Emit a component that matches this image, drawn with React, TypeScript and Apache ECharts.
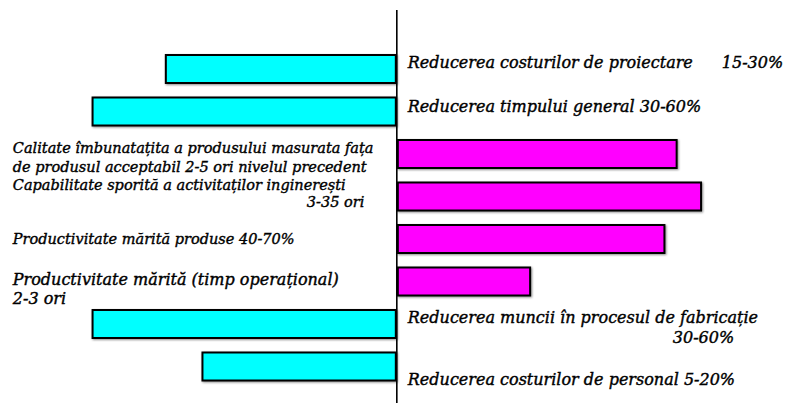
import React, { useEffect, useRef } from "react";
import * as echarts from "echarts";

const categories = [
  "Reducerea costurilor de proiectare",
  "Reducerea timpului general",
  "Calitate îmbunatațita a produsului",
  "Capabilitate sporită a activitaților inginerești",
  "Productivitate mărită produse",
  "Productivitate mărită (timp operațional)",
  "Reducerea muncii în procesul de fabricație",
  "Reducerea costurilor de personal",
];
// bars drawn to the left of the axis (reductions)
const reductionValues: (number | null)[] = [76, 100, null, null, null, null, 100, 64];
// bars drawn to the right of the axis (improvements)
const improvementValues: (number | null)[] = [null, null, 92, 100, 88, 44, null, null];

const labelTexts = [
  "{a|Reducerea costurilor de proiectare}15-30%",
  "Reducerea timpului general 30-60%",
  "Calitate îmbunatațita a produsului masurata fața\nde produsul acceptabil 2-5 ori nivelul precedent",
  "Capabilitate sporită a activitaților inginerești\n{r4|3-35 ori}",
  "Productivitate mărită produse 40-70%",
  "Productivitate mărită (timp operațional)\n2-3 ori",
  "Reducerea muncii în procesul de fabricație\n{r7|30-60%}",
  "Reducerea costurilor de personal 5-20%",
];

const labelDy = [-7, -5, 3, -3, 0, 7, 3.5, 12.5];
const lineHeights = [19, 19, 19, 17, 19, 19, 20, 19];
const labelSizes = [16, 16, 14.5, 14.5, 14.5, 16, 16, 16];

const FONT = "'DejaVu Serif', 'Liberation Serif', serif";
const baseText = {
  fontFamily: FONT,
  fontStyle: "italic" as const,
  fontSize: 16,
  color: "#000",
  textBorderColor: "#000",
  textBorderWidth: 0.4,
};

export default function App() {
  const ref = useRef<HTMLDivElement>(null);
  useEffect(() => {
    if (!ref.current) return;
    const chart = echarts.init(ref.current, null, { renderer: "svg" });
    const rich = {
      a: { ...baseText, width: 314 },
      r4: { ...baseText, fontSize: 14.5, padding: [0, 0, 0, 294] },
      r7: { ...baseText, padding: [0, 0, 0, 265] },
    };
    const barStyle = (color: string) => ({
      color,
      borderColor: "#000",
      borderWidth: 2,
      shadowColor: "rgba(0,0,0,0.45)",
      shadowBlur: 2,
      shadowOffsetX: 1,
      shadowOffsetY: 1,
    });
    const itemLabel = (i: number) => ({
      offset: [0, labelDy[i]],
      lineHeight: lineHeights[i],
      fontSize: labelSizes[i],
    });
    chart.setOption({
      animation: false,
      backgroundColor: "#fff",
      grid: { left: 0, top: 47.75, width: 786, height: 340 },
      xAxis: { type: "value", min: -130, max: 127.5, show: false },
      yAxis: { type: "category", data: categories, inverse: true, show: false },
      series: [
        {
          name: "Reduceri",
          type: "bar",
          barWidth: 30,
          barGap: "-100%",
          itemStyle: barStyle("#00FFFF"),
          label: {
            show: true,
            position: "right",
            distance: 11,
            align: "left",
            verticalAlign: "middle",
            ...baseText,
            rich,
            formatter: (p: any) => labelTexts[p.dataIndex],
          },
          data: reductionValues.map((v, i) =>
            v == null ? "-" : { value: -v, label: itemLabel(i) }
          ),
        },
        {
          name: "Creșteri",
          type: "bar",
          barWidth: 30,
          barGap: "-100%",
          itemStyle: barStyle("#FF00FF"),
          label: {
            show: true,
            position: [-384, "50%"],
            align: "left",
            verticalAlign: "middle",
            ...baseText,
            rich,
            formatter: (p: any) => labelTexts[p.dataIndex],
          },
          data: improvementValues.map((v, i) =>
            v == null ? "-" : { value: v, label: itemLabel(i) }
          ),
        },
      ],
    });
    const x0 = chart.convertToPixel({ xAxisIndex: 0 }, 0) as number;
    chart.setOption({
      graphic: [
        {
          type: "line",
          shape: { x1: x0, y1: 10, x2: x0, y2: 403 },
          style: { stroke: "#000", lineWidth: 1.6 },
          z: 10,
        },
      ],
    });
    return () => chart.dispose();
  }, []);
  return (
    <div
      ref={ref}
      style={{ position: "absolute", left: 0, top: 0, width: 786, height: 403, background: "#fff" }}
    />
  );
}
